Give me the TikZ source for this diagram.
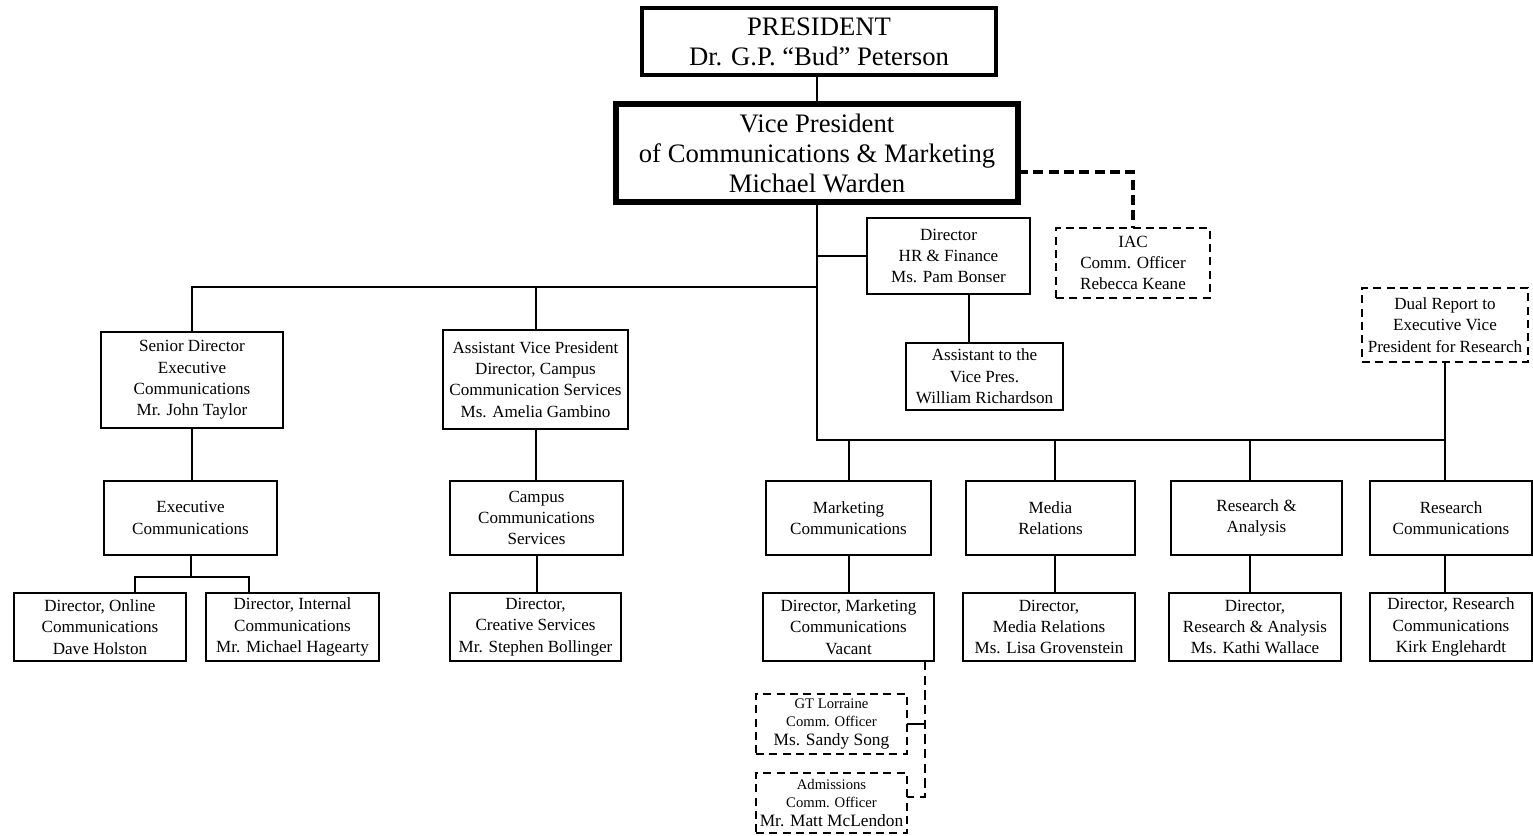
\documentclass[tikz,border=0pt]{standalone}
\usepackage{fontspec}
\setmainfont{Liberation Serif}
\newcommand\bx[7]{\node[#1, minimum width={(#5-#3)*0.75pt}, minimum height={(#6-#4)*0.75pt}] (#2) at ({(#3+#5)/2},{(#4+#6)/2}) {#7};}
\tikzset{
  box/.style={draw, line width=1.5pt, inner sep=0pt, outer sep=0pt, align=center, font=\fontsize{12.8}{16}\selectfont},
  dbox/.style={box, dash pattern=on 6pt off 4pt},
  sbox/.style={dbox, font=\fontsize{11}{14}\selectfont},
  bigbox/.style={box, font=\fontsize{20}{22.5}\selectfont},
  conn/.style={line width=1.5pt},
  dconn/.style={line width=1.5pt, dash pattern=on 7pt off 4pt},
  tconn/.style={line width=2.8pt, dash pattern=on 7.5pt off 4pt},
}
\begin{document}
\begin{tikzpicture}[x=0.75pt,y=-0.75pt]
\useasboundingbox (0,0) rectangle (1533,835);
\fill[white] (0,0) rectangle (1533,835);
% top
\bx{bigbox, line width=3pt}{pres}{642}{8}{996}{75}{PRESIDENT\\Dr. G.P. “Bud” Peterson}
\bx{bigbox, line width=4pt}{vp}{616}{104}{1018}{202}{Vice President\\of Communications \& Marketing\\Michael Warden}
\bx{box}{hr}{867}{218}{1030}{294}{Director\\HR \& Finance\\Ms. Pam Bonser}
\bx{dbox}{iac}{1056}{228}{1210}{298}{IAC\\Comm. Officer\\Rebecca Keane}
\bx{box}{asst}{906}{343}{1063}{410}{Assistant to the\\Vice Pres.\\William Richardson}
\bx{dbox}{dual}{1362}{288}{1528}{362}{Dual Report to\\Executive Vice\\President for Research}
% left branches
\bx{box}{sd}{101}{332}{283}{428}{Senior Director\\Executive\\Communications\\Mr. John Taylor}
\bx{box}{avp}{443}{330}{628}{429}{Assistant Vice President\\Director, Campus\\Communication Services\\Ms. Amelia Gambino}
\bx{box}{ec}{104}{481}{277}{555}{Executive\\Communications}
\bx{box}{ccs}{450}{481}{623}{555}{Campus\\Communications\\Services}
\bx{box}{do}{14}{593}{186}{661}{Director, Online\\Communications\\Dave Holston}
\bx{box}{di}{206}{593}{379}{661}{Director, Internal\\Communications\\Mr. Michael Hagearty}
\bx{box}{cs}{450}{593}{621}{661}{Director,\\Creative Services\\Mr. Stephen Bollinger}
% right branches
\bx{box}{mc}{766}{481}{931}{555}{Marketing\\Communications}
\bx{box}{mr}{966}{481}{1135}{555}{Media\\Relations}
\bx{box}{ra}{1171}{481}{1342}{555}{Research \&\\Analysis}
\bx{box}{rc}{1370}{481}{1532}{555}{Research\\Communications}
\bx{box}{dm}{763}{593}{934}{661}{Director, Marketing\\Communications\\Vacant}
\bx{box}{dmr}{963}{593}{1135}{661}{Director,\\Media Relations\\Ms. Lisa Grovenstein}
\bx{box}{dra}{1169}{593}{1341}{661}{Director,\\Research \& Analysis\\Ms. Kathi Wallace}
\bx{box}{drc}{1370}{593}{1532}{661}{Director, Research\\Communications\\Kirk Englehardt}
\bx{sbox}{gt}{756}{694}{907}{754}{GT Lorraine\\Comm. Officer\\\fontsize{13}{14}\selectfont Ms. Sandy Song}
\bx{sbox}{adm}{756}{773}{907}{833}{Admissions\\Comm. Officer\\\fontsize{13}{14}\selectfont Mr. Matt McLendon}
% coordinates
\coordinate (h1) at (818,287);
\coordinate (t0) at (818,440);
\coordinate (b1) at (135,577);
\coordinate (b2) at (249,577);
\coordinate (hx) at (969,300);
\coordinate (dd) at (925,797);
\coordinate (iy) at (1000,172);
\coordinate (mrx) at (1055,500);
\coordinate (rax) at (1250,500);
% connectors
\draw[conn] (vp.north) -- (vp.north |- pres.south);
\draw[conn] (vp.south) -- (vp.south |- t0) -| (dual.south);
\draw[conn] (hr.west) -- (hr.west -| vp.south);
\draw[conn] (sd.north) |- (h1);
\draw[conn] (avp.north) -- (avp.north |- h1);
\draw[conn] (hr.south -| hx) -- (asst.north -| hx);
\draw[conn] (sd.south) -- (sd.south |- ec.north);
\draw[conn] (ec.south) -- (ec.south |- b1);
\draw[conn] (do.north -| b1) -- (b1) -- (b2) -- (di.north -| b2);
\draw[conn] (avp.south) -- (avp.south |- ccs.north);
\draw[conn] (ccs.south) -- (ccs.south |- cs.north);
\draw[conn] (mc.north) -- (mc.north |- t0);
\draw[conn] (mr.north -| mrx) -- (mrx |- t0);
\draw[conn] (ra.north -| rax) -- (rax |- t0);
\draw[conn] (rc.north -| dual.south) -- (dual.south |- t0);
\draw[conn] (mc.south) -- (mc.south |- dm.north);
\draw[conn] (mr.south -| mrx) -- (mrx |- dmr.north);
\draw[conn] (ra.south -| rax) -- (rax |- dra.north);
\draw[conn] (rc.south -| dual.south) -- (dual.south |- drc.north);
\draw[tconn] (vp.east |- iy) -| (iac.north);
\draw[dconn] (dm.south -| dd) -- (dd) -- (dd -| adm.east);
\draw[conn] (gt.east) -- (gt.east -| dd);
\end{tikzpicture}
\end{document}
